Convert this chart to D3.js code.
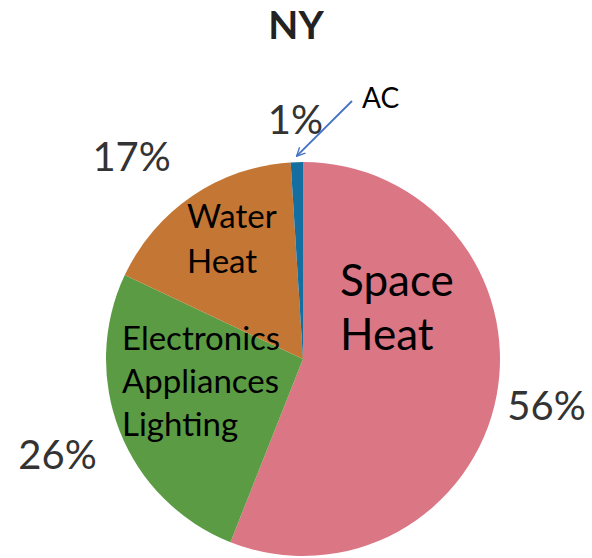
<!DOCTYPE html>
<html>
<head>
<meta charset="utf-8">
<script src="https://cdn.jsdelivr.net/npm/d3@7"></script>
<style>
  html, body { margin: 0; padding: 0; background: #fff; }
  svg { display: block; }
</style>
</head>
<body>
<svg id="chart" width="592" height="558"></svg>
<script>
// ---- data ----
const title = "NY";
const categories = ["Space Heat", "Electronics Appliances Lighting", "Water Heat", "AC"];
const values = [56, 26, 17, 1];
const pctLabels = ["56%", "26%", "17%", "1%"];
const sliceLines = [["Space", "Heat"], ["Electronics", "Appliances", "Lighting"], ["Water", "Heat"], []];
const calloutLabel = "AC";

// ---- style ----
const W = 592, H = 558;
const cx = 303, cy = 359, R = 197;
const colors = ["#DB7685", "#5A9B44", "#C47635", "#156EA0"];
const font = "Lato, 'Open Sans', sans-serif";
const pctRadius = [248, 264, 264, 240];
const pctNudge = [[0, 0], [0, -2], [-23, 16], [0, 0]];
const innerStyle = [
  {dx: 37, dy: -63, size: 44, lh: 54, anchor: "start"},
  {dx: -181, dy: -9, size: 33, lh: 43, anchor: "start"},
  {dx: -116, dy: -131, size: 33, lh: 45, anchor: "start"},
  null
];

const svg = d3.select("#chart");

svg.append("text")
  .attr("x", 296).attr("y", 39)
  .attr("text-anchor", "middle")
  .attr("font-family", font).attr("font-weight", "bold")
  .attr("font-size", 39).attr("fill", "#222")
  .text(title);

const pie = d3.pie().sort(null).startAngle(0).endAngle(2 * Math.PI);
const arcs = pie(values);
const arc = d3.arc().innerRadius(0).outerRadius(R);

const g = svg.append("g").attr("transform", `translate(${cx},${cy})`);

g.selectAll("path.slice")
  .data(arcs)
  .join("path")
  .attr("class", "slice")
  .attr("d", arc)
  .attr("fill", (d, i) => colors[i]);

// percent labels
g.selectAll("text.pct")
  .data(arcs)
  .join("text")
  .attr("class", "pct")
  .attr("x", (d, i) => pctRadius[i] * Math.sin((d.startAngle + d.endAngle) / 2) + pctNudge[i][0])
  .attr("y", (d, i) => -pctRadius[i] * Math.cos((d.startAngle + d.endAngle) / 2) + pctNudge[i][1])
  .attr("dy", "0.36em")
  .attr("text-anchor", "middle")
  .attr("font-family", font)
  .attr("font-size", 40)
  .attr("fill", "#333")
  .text((d, i) => pctLabels[i]);

// inner labels
arcs.forEach((d, i) => {
  const s = innerStyle[i];
  if (!s) return;
  const t = g.append("text")
    .attr("font-family", font)
    .attr("font-size", s.size)
    .attr("fill", "#000")
    .attr("text-anchor", s.anchor);
  sliceLines[i].forEach((line, k) => {
    t.append("tspan").attr("x", s.dx).attr("y", s.dy + k * s.lh).text(line);
  });
});

// AC callout
const defs = svg.append("defs");
defs.append("marker")
  .attr("id", "arrow")
  .attr("viewBox", "0 0 12 12")
  .attr("refX", 11).attr("refY", 6)
  .attr("markerWidth", 10).attr("markerHeight", 10)
  .attr("markerUnits", "userSpaceOnUse")
  .attr("orient", "auto")
  .append("path")
  .attr("d", "M1,1 L11,6 L1,11")
  .attr("fill", "none")
  .attr("stroke", "#4472C4")
  .attr("stroke-width", 1.6);

const ac = arcs[3];
const acMid = (ac.startAngle + ac.endAngle) / 2;
const tip = [(R + 6) * Math.sin(acMid), -(R + 6) * Math.cos(acMid)];
g.append("line")
  .attr("x1", 49).attr("y1", -258)
  .attr("x2", tip[0]).attr("y2", tip[1])
  .attr("stroke", "#4472C4")
  .attr("stroke-width", 1.8)
  .attr("marker-end", "url(#arrow)");

g.append("text")
  .attr("x", 59).attr("y", -251)
  .attr("font-family", font)
  .attr("font-size", 28)
  .attr("fill", "#000")
  .text(calloutLabel);
</script>
</body>
</html>
